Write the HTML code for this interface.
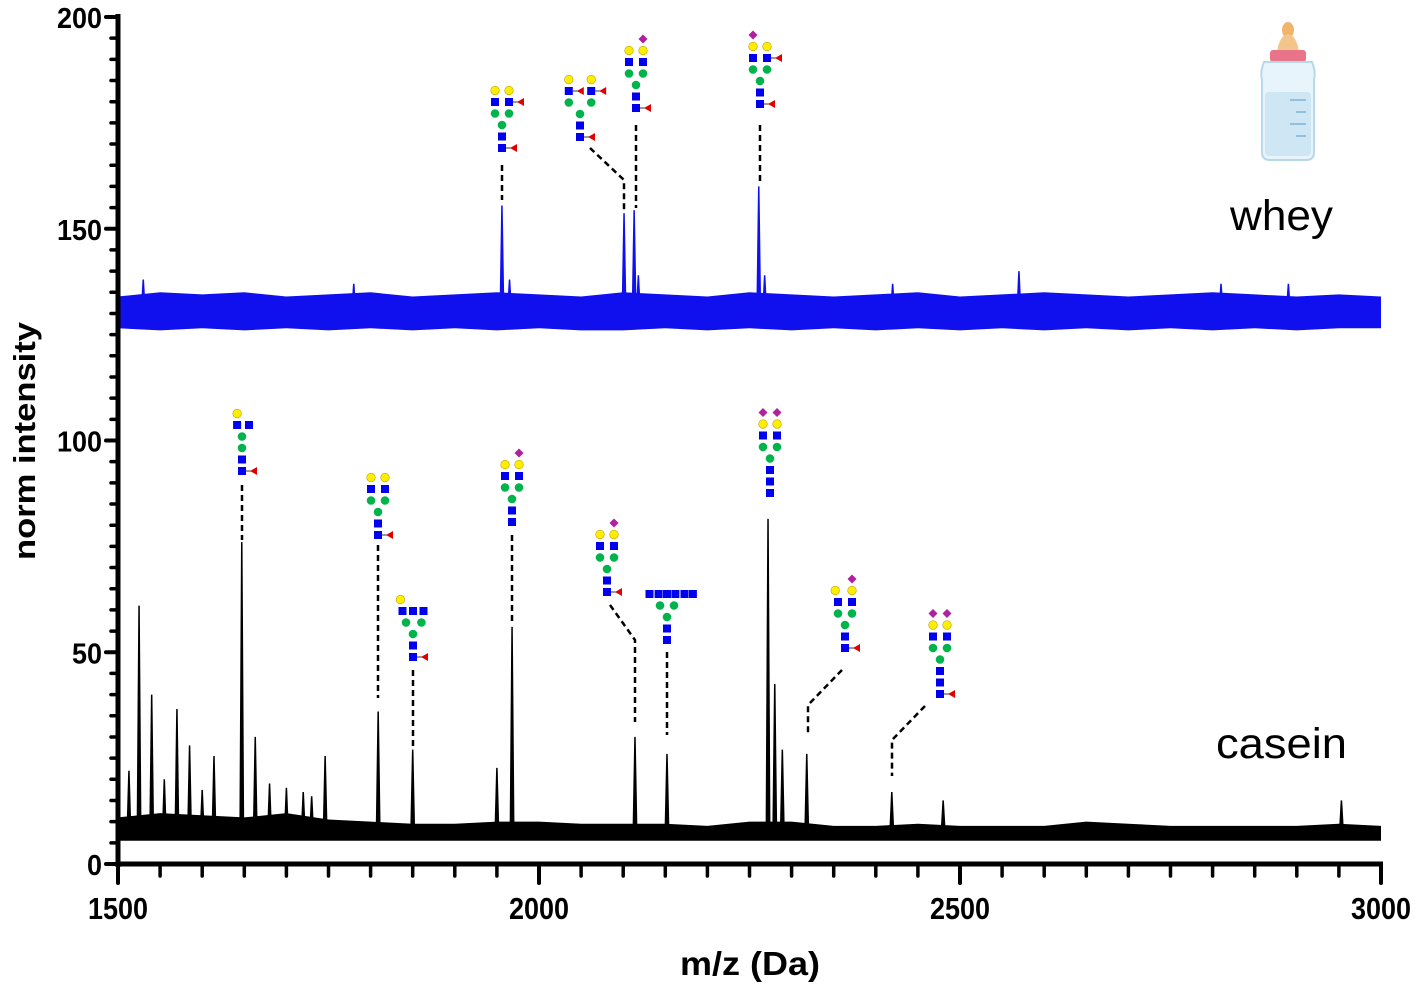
<!DOCTYPE html>
<html><head><meta charset="utf-8"><style>
body{margin:0;background:#fff}
svg{display:block;font-family:"Liberation Sans",Arial,sans-serif}
</style></head><body>
<svg id="chart" width="1421" height="987" viewBox="0 0 1421 987">
<g id="bands"></g>
<g id="peaks"></g>
<g id="annot"></g>
<g id="axes"></g>
<text x="1230" y="230" font-size="43" textLength="103" lengthAdjust="spacingAndGlyphs">whey</text>
<text x="1216" y="758" font-size="43" textLength="131" lengthAdjust="spacingAndGlyphs">casein</text>
<text transform="translate(35,441) rotate(-90)" text-anchor="middle" font-size="31" font-weight="bold" textLength="238" lengthAdjust="spacingAndGlyphs">norm intensity</text>
<text x="750" y="975" text-anchor="middle" font-size="33" font-weight="bold" textLength="140" lengthAdjust="spacingAndGlyphs">m/z (Da)</text>
<g>
<ellipse cx="1288" cy="30" rx="6" ry="8" fill="#f2b36b"/>
<path d="M1277 52 Q1279 36 1288 34 Q1297 36 1299 52 Z" fill="#f4c58a"/>
<rect x="1270" y="50" width="36" height="12" rx="3" fill="#e8748a"/>
<path d="M1264 62 L1312 62 Q1316 72 1314 80 L1314 152 Q1314 160 1306 160 L1270 160 Q1262 160 1262 152 L1262 80 Q1260 72 1264 62 Z" fill="#e8f4fb" stroke="#b7d7ea" stroke-width="2"/>
<rect x="1265" y="92" width="46" height="64" rx="4" fill="#cfe7f5"/>
<g stroke="#7fb2d3" stroke-width="1.5"><line x1="1290" y1="100" x2="1306" y2="100"/><line x1="1296" y1="112" x2="1306" y2="112"/><line x1="1290" y1="124" x2="1306" y2="124"/><line x1="1296" y1="136" x2="1306" y2="136"/></g>
</g>
</svg>
<script>
const NS="http://www.w3.org/2000/svg";
// ---- data ----
const xTicks=[1500,2000,2500,3000];
const yTicks=[0,50,100,150,200];
const bandMz=[1500,1550,1600,1650,1700,1750,1800,1850,1900,1950,2000,2050,2100,2150,2200,2250,2300,2350,2400,2450,2500,2550,2600,2650,2700,2750,2800,2850,2900,2950,3000];
const wheyLow=[126.5,126,126.5,126,126.5,126,126.5,126,126.5,126,126.5,126,126,126.5,126,126.5,126,126.5,126,126.5,126,126.5,126,126.5,126,126.5,126,126.5,126,126.5,126.5];
const wheyHigh=[134,135,134.5,135,134,134.5,135,134,134.5,135,134.5,134,135,134.5,134,135,134.5,134,134.5,135,134,134.5,135,134.5,134,134.5,135,134.5,134,134.5,134];
const caseinLow=[5.5,5.5,5.5,5.5,5.5,5.5,5.5,5.5,5.5,5.5,5.5,5.5,5.5,5.5,5.5,5.5,5.5,5.5,5.5,5.5,5.5,5.5,5.5,5.5,5.5,5.5,5.5,5.5,5.5,5.5,5.5];
const caseinHigh=[11,12,11.5,11,12,10.5,10,9.5,9.5,10,10,9.5,9.5,9.5,9,10,10,9,9,9.5,9,9,9,10,9.5,9,9,9,9,9.5,9];
const wheyPeakMz=[1956,2101,2113,2261,1530,1780,2420,2570,2810,2890,1965,2118,2268];
const wheyPeakInt=[155.5,153.7,154.4,160,138,137,137,140,137,137,138,139,139];
const caseinPeakMz=[1513,1525,1540,1555,1570,1585,1600,1614,1647,1663,1680,1700,1720,1730,1746,1809,1850,1950,1968,2114,2152,2272,2280,2289,2318,2419,2480,2953];
const caseinPeakInt=[22,61,40,20,36.6,28,17.5,25.5,76,30,19,18,17,16,25.5,36,27,22.7,56,30,26,81.5,42.5,27,26,17,15,15];
// ---- scales ----
const X=v=>118+(v-1500)*1263/1500;
const Y=v=>864-v*847/200;
function el(tag,attrs,parent){const e=document.createElementNS(NS,tag);for(const k in attrs)e.setAttribute(k,attrs[k]);parent.appendChild(e);return e;}
// ---- bands ----
const bands=document.getElementById('bands');
function band(lo,hi,col,name){let d='M'+X(bandMz[0])+' '+Y(hi[0]);
for(let i=1;i<bandMz.length;i++)d+=' L'+X(bandMz[i])+' '+Y(hi[i]);
for(let i=bandMz.length-1;i>=0;i--)d+=' L'+X(bandMz[i])+' '+Y(lo[i]);
const p=el('path',{d:d+'Z',fill:col},bands);

}
band(wheyLow,wheyHigh,'#1010ee','whey-baseline');
band(caseinLow,caseinHigh,'#000','casein-baseline');
// ---- peaks ----
const peaks=document.getElementById('peaks');
function drawPeaks(mz,it,base,col,name){for(let i=0;i<mz.length;i++){
const p=el('path',{d:`M${X(mz[i]-2)} ${Y(base)} L${X(mz[i])} ${Y(it[i])} L${X(mz[i]+2)} ${Y(base)}Z`,fill:col,stroke:col,'stroke-width':1.5},peaks);

}}
drawPeaks(wheyPeakMz,wheyPeakInt,131,'#1010ee','whey-peak');
drawPeaks(caseinPeakMz,caseinPeakInt,8,'#000','casein-peak');
// ---- axes ----
const ax=document.getElementById('axes');
el('line',{x1:118,y1:14,x2:118,y2:867,stroke:'#000','stroke-width':5},ax);
el('line',{x1:116,y1:864,x2:1383,y2:864,stroke:'#000','stroke-width':5},ax);
for(let v=0;v<=200;v+=5){const maj=v%50===0;el('line',{x1:maj?106:111,y1:Y(v),x2:118,y2:Y(v),stroke:'#000','stroke-width':maj?4:3.5,'stroke-linecap':'round'},ax);}
for(let v=1500;v<=3000;v+=50){const maj=v%500===0;el('line',{x1:X(v),y1:864,x2:X(v),y2:maj?883:876,stroke:'#000','stroke-width':maj?4:3.5,'stroke-linecap':'round'},ax);}
yTicks.forEach(v=>{const t=el('text',{x:102,y:Y(v)+11,'text-anchor':'end','font-size':29,'font-weight':'bold',textLength:String(v).length*15,lengthAdjust:'spacingAndGlyphs'},ax);t.textContent=v;

});
xTicks.forEach(v=>{const t=el('text',{x:X(v),y:919,'text-anchor':'middle','font-size':31,'font-weight':'bold',textLength:60,lengthAdjust:'spacingAndGlyphs'},ax);t.textContent=v;

});
// ---- glycans ----
const an=document.getElementById('annot');
const bi=[['s',0,0],['s',0,-1],['g',0,-2],['g',-1,-3],['g',1,-3],['s',-1,-4],['s',1,-4],['y',-1,-5],['y',1,-5]];
const glycans=[
 {x:502,y:148,items:bi.concat([['f',0,0],['f',1,-4]]),line:[[502,165],[502,200]]},
 {x:580,y:137,items:[['s',0,0],['s',0,-1],['g',0,-2],['g',-1.6,-3],['g',1.6,-3],['s',-1.6,-4],['s',1.6,-4],['y',-1.6,-5],['y',1.6,-5],['f',0,0],['f',-1.6,-4],['f',1.6,-4]],line:[[590,148],[624,180],[624,212]]},
 {x:636,y:108,items:bi.concat([['f',0,0],['d',1,-6]]),line:[[636,125],[636,208]]},
 {x:760,y:104,items:bi.concat([['f',0,0],['f',1,-4],['d',-1,-6]]),line:[[760,125],[760,185]]},
 {x:242,y:471,items:[['s',0,0],['s',0,-1],['g',0,-2],['g',0,-3],['s',-0.7,-4],['s',1,-4],['y',-0.7,-5],['f',0,0]],line:[[242,485],[242,540]]},
 {x:378,y:535,items:bi.concat([['f',0,0]]),line:[[378,545],[378,698]]},
 {x:413,y:657,items:[['s',0,0],['s',0,-1],['g',0,-2],['g',-1,-3],['g',1.2,-3],['s',-1.5,-4],['s',0,-4],['s',1.5,-4],['y',-1.8,-5],['f',0,0]],line:[[413,670],[413,748]]},
 {x:512,y:522,items:bi.concat([['d',1,-6]]),line:[[512,535],[512,625]]},
 {x:607,y:592,items:bi.concat([['f',0,0],['d',1,-6]]),line:[[610,605],[635,640],[635,722]]},
 {x:667,y:640,items:[['s',0,0],['s',0,-1],['g',0,-2],['g',-1,-3],['g',1,-3],['s',-2.5,-4],['s',-1.2,-4],['s',0,-4],['s',1.2,-4],['s',2.5,-4],['s',3.7,-4]],line:[[667,652],[667,735]]},
 {x:770,y:493,items:bi.concat([['s',0,1],['d',-1,-6],['d',1,-6]]).map(a=>[a[0],a[1],a[2]-1]),line:null},
 {x:845,y:648,items:[['s',0,0],['s',0,-1],['g',0,-2],['g',-1,-3],['g',1,-3],['s',-1,-4],['s',1,-4],['y',-1.4,-5],['y',1,-5],['d',1,-6],['f',0,0]],line:[[842,670],[808,705],[808,736]]},
 {x:940,y:694,items:[['s',0,0],['s',0,-1],['g',0,-2],['g',-1,-3],['g',1,-3],['s',-1,-4],['s',1,-4],['y',-1,-5],['y',1,-5],['d',-1,-6],['d',1,-6],['f',0,0]].map(a=>[a[0],a[1],a[2]-(a[2]<=-1?1:0)]).concat([['s',0,-1]]),line:[[925,706],[892,740],[892,776]]}
];
glycans.forEach((gl,gi)=>{
 const g=el('g',{},an);
 
 
 if(gl.line){el('polyline',{points:gl.line.map(p=>p.join(',')).join(' '),fill:'none',stroke:'#000','stroke-width':2.5,'stroke-dasharray':'6,4'},g);}
 gl.items.forEach(([t,dx,dy])=>{
  const cx=gl.x+dx*7,cy=gl.y+dy*11.5;
  if(t==='s')el('rect',{x:cx-4,y:cy-4,width:8,height:8,fill:'#0000ee'},g);
  else if(t==='g')el('circle',{cx,cy,r:4.3,fill:'#00b34a'},g);
  else if(t==='y')el('circle',{cx,cy,r:4.3,fill:'#ffee00',stroke:'#bba000','stroke-width':0.6},g);
  else if(t==='d')el('path',{d:`M${cx} ${cy-4.5} L${cx+4.5} ${cy} L${cx} ${cy+4.5} L${cx-4.5} ${cy}Z`,fill:'#b0219e'},g);
  else if(t==='f'){el('line',{x1:cx+4,y1:cy,x2:cx+9,y2:cy,stroke:'#333','stroke-width':1},g);el('path',{d:`M${cx+8} ${cy} L${cx+15} ${cy-4} L${cx+15} ${cy+4}Z`,fill:'#e00000'},g);}
 });
});
</script>
</body></html>
